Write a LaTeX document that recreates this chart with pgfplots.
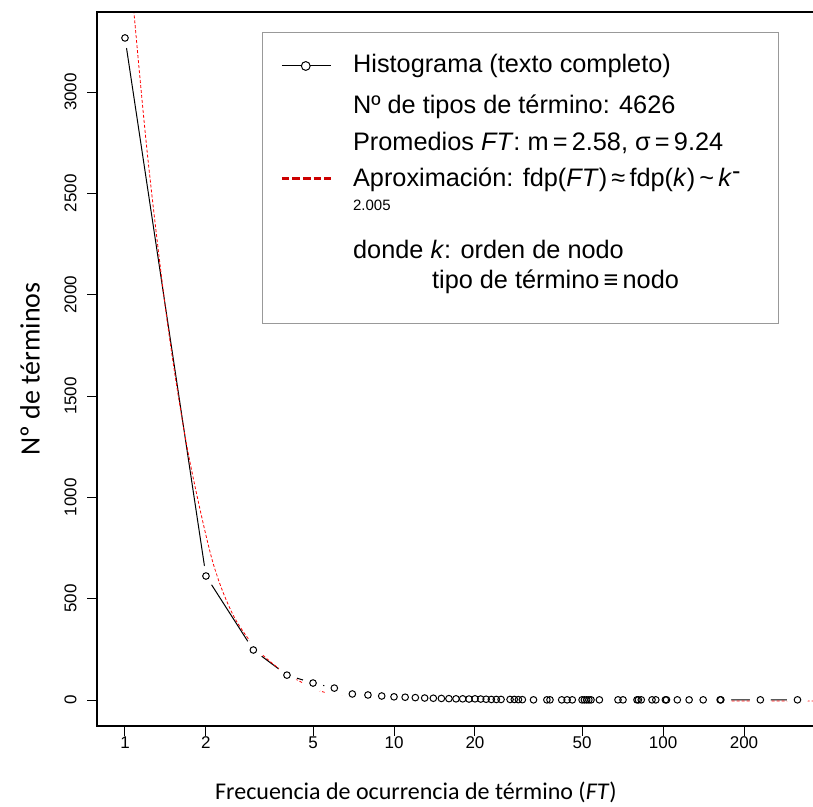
\documentclass[border=0pt]{standalone}
\usepackage{pgfplots}
\pgfplotsset{compat=1.18}
\usepackage{pgfplotstable}
\usepackage{fontspec}
\setmainfont{Liberation Sans}
\newfontfamily\carlito{Carlito}

% histogram: frequency of term (FT) vs number of terms
\pgfplotstableread{
ft n
1 3267
2 612
3 247
4 123
5 84
6 59
7 30
8 25
9 20
10 16
11 14
12 12
13 10
14 9
15 8
16 7
17 6
18 6
19 5
20 6
21 5
22 4
23 3
24 3
25 3
27 3
28 3
29 2
30 2
33 1
37 1
38 1
42 1
44 1
46 1
50 1
51 1
52 1
53 1
54 1
58 1
68 1
71 1
80 1
81 1
83 1
91 1
94 1
102 1
103 1
113 1
125 1
141 1
163 1
164 1
230 1
316 1
}\hist

% power-law approximation
\pgfplotstableread{
x y
1.05 3600
1.08 3390
1.218 2664
1.433 1875
1.7 1250
2.1 700
2.5 430
3.0 270
3.5 185
4.0 128
4.5 90
5.3 45
6.0 30
7.0 18
8.0 11
10 5
13 1
20 -3
50 -5
361 -5
}\fit

\begin{document}
\begin{tikzpicture}
\begin{axis}[
  name=ax,
  scale only axis, width=358pt, height=357pt,
  xmode=log, xmin=0.787, xmax=361,
  ymin=-128, ymax=3395,
  axis line style={draw=none},
  xtick={1,2,5,10,20,50,100,200},
  xticklabels={1,2,5,10,20,50,100,200},
  minor xtick={}, xminorticks=false,
  ytick={0,500,1000,1500,2000,2500,3000},
  yticklabels={0,500,1000,1500,2000,2500,3000},
  /pgf/number format/assume math mode=true,
  xtick pos=bottom, ytick pos=left,
  tick align=outside, major tick length=5pt,
  tick style={black, line width=0.5pt},
  ticklabel style={font=\fontsize{8.5}{10}\selectfont},
  yticklabel style={rotate=90, anchor=south, inner sep=1pt, yshift=4pt},
  xticklabel style={inner sep=1pt, yshift=1pt},
  xlabel={\carlito Frecuencia de ocurrencia de término (\textit{FT})},
  ylabel={\carlito Nº de términos},
  xlabel style={font=\fontsize{12}{14}\selectfont, at={(axis description cs:0.4455,-0.0924)}, anchor=center},
  ylabel style={font=\fontsize{14}{16}\selectfont, at={(axis description cs:-0.0936,0.5)}, anchor=center, rotate=0},
  legend style={at={(axis description cs:0.2584,0.9706)}, anchor=north west,
    draw=none, fill=none, inner xsep=-1pt, inner ysep=0pt,
    column sep=10.5pt, row sep=0pt,
    nodes={inner sep=0pt, text depth=3pt},
    cells={anchor=base west},
    font=\fontsize{12.65}{15}\selectfont},
]
\addplot[black, line width=0.5pt, no markers, forget plot] table {\hist};
\addplot[only marks, white, mark=*, mark size=5pt, forget plot] table {\hist};
\addplot[red, line width=0.4pt, dash pattern=on 1.5pt off 1pt, smooth, forget plot] table {\fit};
\addplot[only marks, mark=o, mark size=1.65pt, black, mark options={line width=0.5pt}, forget plot] table {\hist};

% legend frame
\draw[black!40, line width=0.5pt, fill=white]
  (axis description cs:0.2318,0.9706) rectangle (axis description cs:0.9511,0.5644);

\addlegendimage{legend image code/.code={
  \draw[black, line width=0.5pt] (0pt,3.2pt) -- (9.8pt,3.2pt) (14.2pt,3.2pt) -- (24.5pt,3.2pt);
  \draw[black, line width=0.5pt] (12pt,3.2pt) circle (2.2pt);
}}
\addlegendentry{\rule{0pt}{19.5pt}Histograma (texto completo)}
\addlegendimage{empty legend}
\addlegendentry{\rule{0pt}{17.5pt}Nº de tipos de término: 4626}
\addlegendimage{empty legend}
\addlegendentry{\rule{0pt}{15.5pt}Promedios \textit{FT}: m\,=\,2.58, σ\,=\,9.24}
\addlegendimage{legend image code/.code={
  \draw[red!80!black, line width=1.35pt, dash pattern=on 3.85pt off 1.45pt] (0pt,4pt) -- (24.5pt,4pt);
}}
\addlegendentry{\rule{0pt}{15pt}Aproximación: fdp(\textit{FT})\,≈\,fdp(\textit{k})\,\textasciitilde\,\textit{k}\raisebox{0.55ex}{-}}
\addlegendimage{empty legend}
\addlegendentry{\rule{0pt}{9pt}\fontsize{7.5}{9}\selectfont 2.005}
\addlegendimage{empty legend}
\addlegendentry{\rule{0pt}{21pt}donde \textit{k}: orden de nodo}
\addlegendimage{empty legend}
\addlegendentry{\rule{0pt}{12pt}\hspace*{39.5pt}tipo de término\,≡\,nodo}
\addlegendimage{empty legend}
\addlegendentry{\rule{0pt}{11.5pt}}
\end{axis}
\draw[black, line width=0.6pt] (ax.north east) -- (ax.north west) -- (ax.south west) -- (ax.south east);
\pgfresetboundingbox
\useasboundingbox (-48.5pt,-40.5pt) rectangle (358pt,363pt);
\end{tikzpicture}
\end{document}
